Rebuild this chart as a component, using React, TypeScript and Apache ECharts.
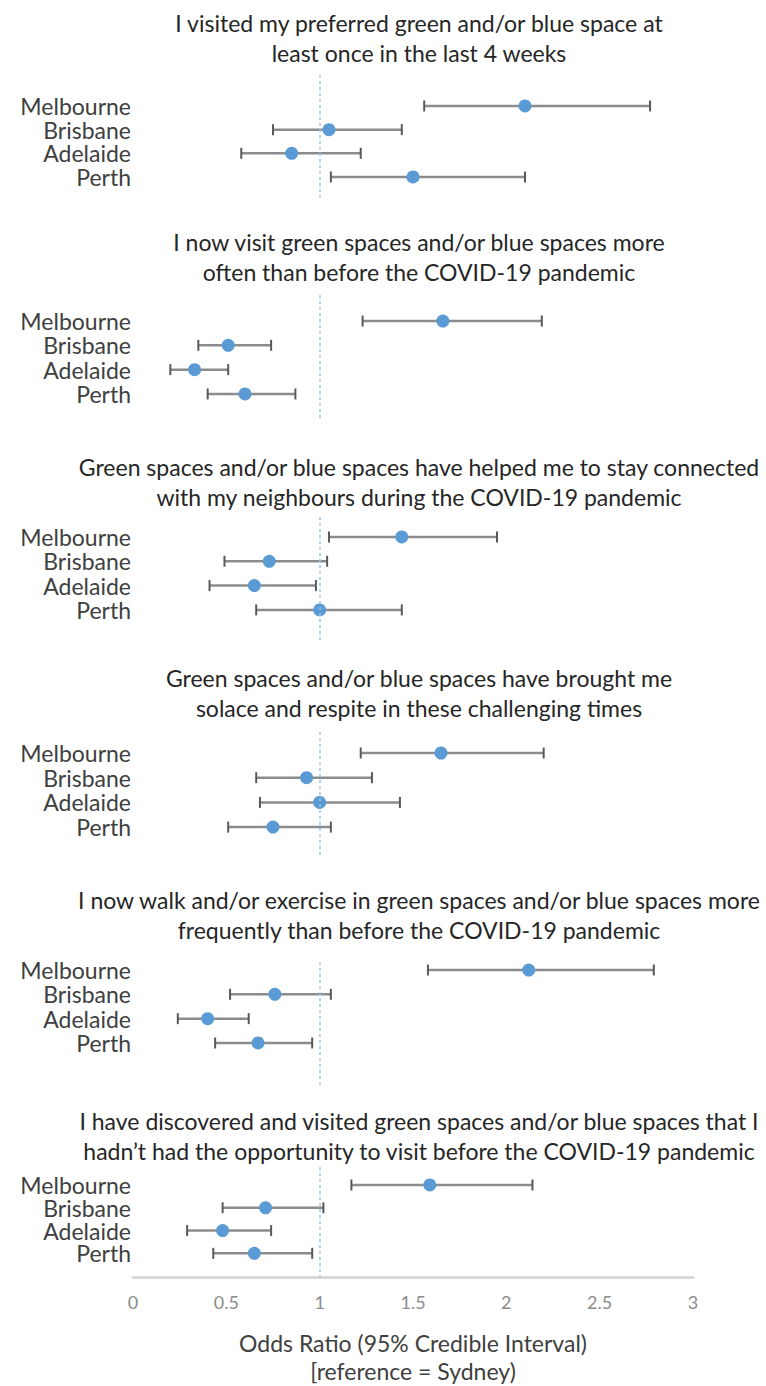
import React, { useEffect, useRef } from "react";
import * as echarts from "echarts";

const cities = ["Melbourne", "Brisbane", "Adelaide", "Perth"];
const panelTitles = [
  "I visited my preferred green and/or blue space at\nleast once in the last 4 weeks",
  "I now visit green spaces and/or blue spaces more\noften than before the COVID-19 pandemic",
  "Green spaces and/or blue spaces have helped me to stay connected\nwith my neighbours during the COVID-19 pandemic",
  "Green spaces and/or blue spaces have brought me\nsolace and respite in these challenging times",
  "I now walk and/or exercise in green spaces and/or blue spaces more\nfrequently than before the COVID-19 pandemic",
  "I have discovered and visited green spaces and/or blue spaces that I\nhadn\u2019t had the opportunity to visit before the COVID-19 pandemic",
];
// Odds ratio per panel, order: Melbourne, Brisbane, Adelaide, Perth
const oddsRatio = [
  [2.1, 1.05, 0.85, 1.5],
  [1.66, 0.51, 0.33, 0.6],
  [1.44, 0.73, 0.65, 1.0],
  [1.65, 0.93, 1.0, 0.75],
  [2.12, 0.76, 0.4, 0.67],
  [1.59, 0.71, 0.48, 0.65],
];
const lowerCI = [
  [1.56, 0.75, 0.58, 1.06],
  [1.23, 0.35, 0.2, 0.4],
  [1.05, 0.49, 0.41, 0.66],
  [1.22, 0.66, 0.68, 0.51],
  [1.58, 0.52, 0.24, 0.44],
  [1.17, 0.48, 0.29, 0.43],
];
const upperCI = [
  [2.77, 1.44, 1.22, 2.1],
  [2.19, 0.74, 0.51, 0.87],
  [1.95, 1.04, 0.98, 1.44],
  [2.2, 1.28, 1.43, 1.06],
  [2.79, 1.06, 0.62, 0.96],
  [2.14, 1.02, 0.74, 0.96],
];
const xTicks = [0, 0.5, 1, 1.5, 2, 2.5, 3];
const referenceOR = 1;
const xAxisTitle = "Odds Ratio (95% Credible Interval)\n[reference = Sydney)";

// layout per panel
const titleTops = [3, 222, 447, 658, 880, 1101];
const gridTops = [75, 295, 517, 732, 962, 1167];
const gridHeights = [123, 123, 125, 125, 125, 116];
const yMins = [-0.31, -0.07, 0.18, 0.15, 0.67, 0.21];
const yMaxs = [4.89, 4.99, 5.32, 5.21, 5.81, 5.04];

const FONT = "Lato";

function buildOption() {
  const n = panelTitles.length;
  const titles: any[] = [];
  const grids: any[] = [];
  const xAxes: any[] = [];
  const yAxes: any[] = [];
  const series: any[] = [];
  for (let p = 0; p < n; p++) {
    const last = p === n - 1;
    titles.push({
      text: panelTitles[p],
      left: 414,
      top: titleTops[p],
      textAlign: "center",
      textStyle: {
        fontFamily: FONT,
        fontSize: 23,
        lineHeight: 30,
        fontWeight: "normal",
        color: "#262626",
      },
    });
    grids.push({ left: 133, width: 560, top: gridTops[p], height: gridHeights[p] });
    xAxes.push({
      gridIndex: p,
      type: "value",
      min: xTicks[0],
      max: xTicks[xTicks.length - 1],
      interval: 0.5,
      show: last,
      axisLine: { show: last, lineStyle: { color: "#d9d9d9", width: 3 } },
      axisTick: { show: false },
      splitLine: { show: false },
      axisLabel: {
        show: last,
        margin: 16,
        fontFamily: FONT,
        fontSize: 18,
        color: "#8c8c8c",
        formatter: (v: number) => String(v),
      },
      name: last ? xAxisTitle : "",
      nameLocation: "middle",
      nameGap: 52,
      nameTextStyle: {
        fontFamily: FONT,
        fontSize: 23,
        lineHeight: 28,
        color: "#404040",
      },
    });
    yAxes.push({
      gridIndex: p,
      type: "value",
      inverse: true,
      min: yMins[p],
      max: yMaxs[p],
      show: false,
      axisLine: { show: false },
      axisTick: { show: false },
      splitLine: { show: false },
      axisLabel: { show: false },
    });
    series.push({
      type: "custom",
      name: "labels",
      xAxisIndex: p,
      yAxisIndex: p,
      z: 2,
      silent: true,
      data: cities.map((c, i) => [xTicks[0], i + 1]),
      encode: { x: 0, y: 1 },
      renderItem: (params: any, api: any) => {
        const pt = api.coord([api.value(0), api.value(1)]);
        return {
          type: "text",
          x: pt[0] - 2,
          y: pt[1],
          style: {
            text: cities[params.dataIndex],
            align: "right",
            verticalAlign: "middle",
            fontFamily: FONT,
            fontSize: 23,
            fill: "#404040",
          },
        };
      },
    });
    series.push({
      type: "custom",
      xAxisIndex: p,
      yAxisIndex: p,
      z: 2,
      data: cities.map((c, i) => [lowerCI[p][i], upperCI[p][i], i + 1]),
      encode: { x: [0, 1], y: 2 },
      renderItem: (params: any, api: any) => {
        const y = api.value(2);
        const lo = api.coord([api.value(0), y]);
        const hi = api.coord([api.value(1), y]);
        const cap = 5.5;
        return {
          type: "group",
          children: [
            {
              type: "line",
              shape: { x1: lo[0], y1: lo[1], x2: hi[0], y2: hi[1] },
              style: { stroke: "#8c8c8c", lineWidth: 2.5 },
            },
            {
              type: "line",
              shape: { x1: lo[0], y1: lo[1] - cap, x2: lo[0], y2: lo[1] + cap },
              style: { stroke: "#595959", lineWidth: 2 },
            },
            {
              type: "line",
              shape: { x1: hi[0], y1: hi[1] - cap, x2: hi[0], y2: hi[1] + cap },
              style: { stroke: "#595959", lineWidth: 2 },
            },
          ],
        };
      },
      markLine: {
        silent: true,
        symbol: "none",
        label: { show: false },
        lineStyle: { color: "#9dc3e6", type: [3, 3], width: 1.5 },
        data: [{ xAxis: referenceOR }],
      },
    });
    series.push({
      type: "scatter",
      xAxisIndex: p,
      yAxisIndex: p,
      z: 3,
      symbol: "circle",
      symbolSize: 13,
      itemStyle: { color: "#5b9bd5", opacity: 1 },
      data: cities.map((c, i) => [oddsRatio[p][i], i + 1]),
    });
  }
  return {
    animation: false,
    backgroundColor: "#ffffff",
    title: titles,
    grid: grids,
    xAxis: xAxes,
    yAxis: yAxes,
    series,
  };
}

export default function App() {
  const ref = useRef<HTMLDivElement>(null);
  useEffect(() => {
    if (!ref.current) return;
    const chart = echarts.init(ref.current, undefined, { renderer: "svg" });
    chart.setOption(buildOption());
    return () => chart.dispose();
  }, []);
  return (
    <div
      ref={ref}
      style={{ position: "absolute", left: 0, top: 0, width: 766, height: 1386 }}
    />
  );
}
